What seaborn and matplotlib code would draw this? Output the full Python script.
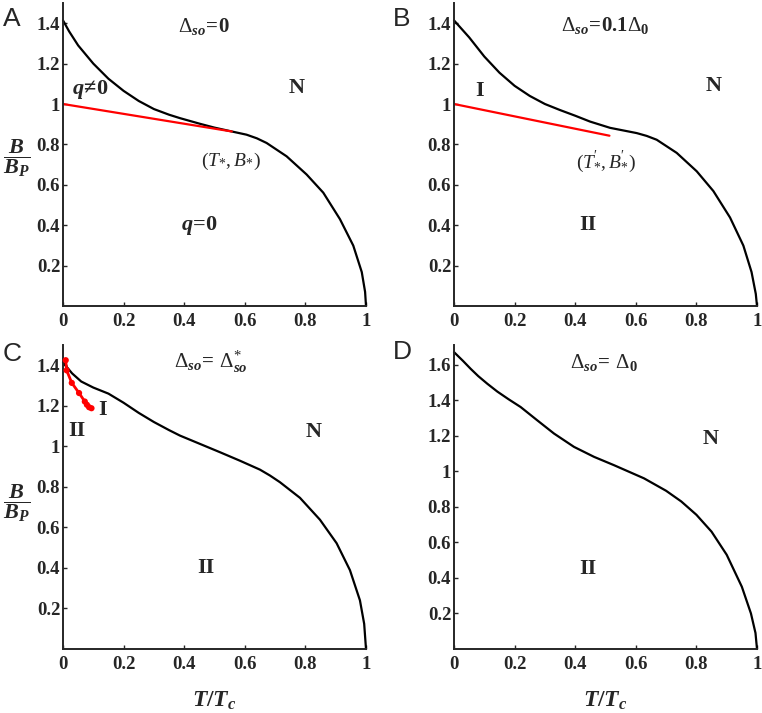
import numpy as np
import matplotlib
matplotlib.use("Agg")
import matplotlib.pyplot as plt
from matplotlib.ticker import FuncFormatter
import seaborn as sns

sns.set_style("ticks")
plt.rcParams['font.family'] = ['Liberation Serif', 'DejaVu Serif']
plt.rcParams['font.weight'] = 'bold'
plt.rcParams['mathtext.fontset'] = 'custom'
plt.rcParams['mathtext.rm'] = 'Liberation Serif:normal'
plt.rcParams['mathtext.it'] = 'Liberation Serif:italic:bold'
plt.rcParams['mathtext.bf'] = 'Liberation Serif:bold'
plt.rcParams['mathtext.sf'] = 'Liberation Serif:italic:normal'

# --- data ---
# panel A: delta_so = 0
a_t = [0.0, 0.02, 0.05, 0.1, 0.15, 0.2, 0.25, 0.3, 0.35, 0.386, 0.452, 0.5, 0.557,
       0.606, 0.64, 0.672, 0.738, 0.804, 0.859, 0.914, 0.958, 0.986, 0.997, 1.0]
a_b = [1.414, 1.36, 1.29, 1.20, 1.125, 1.065, 1.015, 0.975, 0.947, 0.930, 0.902, 0.883, 0.864,
       0.848, 0.83, 0.807, 0.741, 0.651, 0.561, 0.430, 0.299, 0.168, 0.07, 0.0]
a_red_t = [0.0, 0.557]
a_red_b = [1.0, 0.864]

# panel B: delta_so = 0.1 delta_0
b_t = [0.0, 0.05, 0.1, 0.15, 0.2, 0.25, 0.3, 0.35, 0.4, 0.449, 0.515, 0.603, 0.636,
       0.669, 0.735, 0.801, 0.856, 0.911, 0.955, 0.982, 0.996, 1.0]
b_b = [1.414, 1.33, 1.235, 1.155, 1.09, 1.04, 1.0, 0.97, 0.942, 0.913, 0.882, 0.856, 0.842,
       0.823, 0.758, 0.667, 0.569, 0.438, 0.299, 0.168, 0.06, 0.0]
b_red_t = [0.0, 0.513]
b_red_b = [1.0, 0.843]

# panel C: delta_so = delta_so*
c_t = [0.0, 0.03, 0.06, 0.1, 0.15, 0.2, 0.25, 0.3, 0.35, 0.386, 0.452, 0.518, 0.584,
       0.65, 0.683, 0.716, 0.782, 0.848, 0.903, 0.947, 0.98, 0.994, 1.0]
c_b = [1.414, 1.36, 1.32, 1.29, 1.26, 1.215, 1.165, 1.12, 1.08, 1.053, 1.012, 0.971, 0.929,
       0.885, 0.856, 0.823, 0.746, 0.638, 0.522, 0.389, 0.24, 0.124, 0.0]
c_red_t = [0.009, 0.012, 0.029, 0.053, 0.072, 0.079, 0.086, 0.094]
c_red_b = [1.425, 1.375, 1.313, 1.263, 1.221, 1.205, 1.193, 1.188]

# panel D: delta_so = delta_0
d_t = [0.0, 0.03, 0.055, 0.08, 0.11, 0.143, 0.18, 0.22, 0.275, 0.33, 0.396, 0.462,
       0.528, 0.627, 0.7, 0.75, 0.8, 0.85, 0.9, 0.95, 0.98, 0.995, 1.0]
d_b = [1.67, 1.62, 1.576, 1.535, 1.492, 1.448, 1.405, 1.361, 1.286, 1.212, 1.137, 1.081,
       1.034, 0.96, 0.89, 0.83, 0.755, 0.66, 0.53, 0.35, 0.2, 0.09, 0.0]

x_ticks = [0, 0.2, 0.4, 0.6, 0.8, 1.0]
y_ticks = [0.2, 0.4, 0.6, 0.8, 1.0, 1.2, 1.4]
y_ticks_d = [0.2, 0.4, 0.6, 0.8, 1.0, 1.2, 1.4, 1.6]

fig = plt.figure(figsize=(7.62, 7.13), dpi=100)
W, H = 762, 713


def make_ax(left, top, bottom, right):
    return fig.add_axes([left / W, 1 - bottom / H, (right - left) / W, (bottom - top) / H])


axA = make_ax(63, 3, 306, 366)
axB = make_ax(454, 3, 306, 757)
axC = make_ax(63, 345, 649, 366)
axD = make_ax(454, 345, 649, 757)

fmt = FuncFormatter(lambda v, p: "%g" % v)
for ax, ytop, yt in [(axA, 1.5, y_ticks), (axB, 1.5, y_ticks), (axC, 1.5, y_ticks), (axD, 1.71, y_ticks_d)]:
    ax.set_xlim(0, 1.0)
    ax.set_ylim(0, ytop)
    ax.set_xticks(x_ticks)
    ax.set_yticks(yt)
    ax.xaxis.set_major_formatter(fmt)
    ax.yaxis.set_major_formatter(fmt)
    ax.tick_params(direction='in', length=3, width=1, labelsize=13.5, pad=2)
    ax.tick_params(axis='x', pad=5)
    for lab in ax.get_xticklabels() + ax.get_yticklabels():
        lab.set_fontweight('bold')
    sns.despine(ax=ax)
    for s in ['left', 'bottom']:
        ax.spines[s].set_linewidth(1.4)

lw = 1.6
sns.lineplot(x=a_t, y=a_b, ax=axA, color='black', lw=lw, estimator=None, sort=False, clip_on=False)
sns.lineplot(x=a_red_t, y=a_red_b, ax=axA, color='red', lw=lw, estimator=None, sort=False)
sns.lineplot(x=b_t, y=b_b, ax=axB, color='black', lw=lw, estimator=None, sort=False, clip_on=False)
sns.lineplot(x=b_red_t, y=b_red_b, ax=axB, color='red', lw=lw, estimator=None, sort=False)
sns.lineplot(x=c_t, y=c_b, ax=axC, color='black', lw=lw, estimator=None, sort=False, clip_on=False)
sns.lineplot(x=c_red_t, y=c_red_b, ax=axC, color='red', lw=lw + 0.4, estimator=None, sort=False, clip_on=False)
sns.scatterplot(x=c_red_t, y=c_red_b, ax=axC, color='red', s=20, edgecolor='none', clip_on=False, zorder=5)
sns.lineplot(x=d_t, y=d_b, ax=axD, color='black', lw=lw, estimator=None, sort=False, clip_on=False)

# region labels
kw = dict(ha='center', va='center', fontsize=16, fontweight='bold')
tkw = dict(ha='center', va='center', fontsize=15)
pkw = dict(ha='center', va='center', fontsize=14, fontweight='normal')
axA.text(0.465, 1.386, r'$\Delta_{so}\!\mathbf{=}\!\mathbf{0}$', **tkw)
axA.text(0.77, 1.08, 'N', **kw)
axA.text(0.09, 1.07, r'$q\!\mathbf{\neq}\!\mathbf{0}$', ha='center', va='center', fontsize=16)
axA.text(0.45, 0.40, r'$q\!\mathbf{=}\!\mathbf{0}$', ha='center', va='center', fontsize=16)
axA.text(0.553, 0.718, r'$(\mathsf{T}_{*}, \mathsf{B}_{*})$', **pkw)

axB.text(0.50, 1.39, r'$\Delta_{so}\!\mathbf{=}\!\mathbf{0.1}\Delta_{\mathbf{0}}$', **tkw)
axB.text(0.856, 1.088, 'N', **kw)
axB.text(0.083, 1.066, 'I', **kw)
axB.text(0.443, 0.40, 'II', **kw)
axB.text(0.50, 0.71, r"$(\mathsf{T}^{\prime}_{*}, \mathsf{B}^{\prime}_{*})$", **pkw)

axC.text(0.487, 1.418, r'$\Delta_{so}\!\mathbf{=}\,\Delta^{*}_{so}$', **tkw)
axC.text(0.132, 1.177, 'I', **kw)
axC.text(0.046, 1.077, 'II', **kw)
axC.text(0.826, 1.069, 'N', **kw)
axC.text(0.471, 0.399, 'II', **kw)

axD.text(0.496, 1.61, r'$\Delta_{so}\!\mathbf{=}\,\Delta_{\mathbf{0}}$', **tkw)
axD.text(0.848, 1.18, 'N', **kw)
axD.text(0.443, 0.449, 'II', **kw)

# axis labels
for ax in (axC, axD):
    ax.set_xlabel(r'$T\mathbf{/}T_c$', fontsize=17, labelpad=12)
fig.text(17 / W, 1 - 158 / H, r'$\dfrac{B}{B_P}$', ha='center', va='center', fontsize=16)
fig.text(17 / W, 1 - 503 / H, r'$\dfrac{B}{B_P}$', ha='center', va='center', fontsize=16)

# panel letters
for lab, x, y in [('A', 3, 7), ('B', 393, 7), ('C', 3, 342), ('D', 393, 340)]:
    fig.text(x / W, 1 - y / H, lab, ha='left', va='top', fontsize=19,
             family='Liberation Sans', fontweight='normal')

fig.savefig('out.png', dpi=100)
